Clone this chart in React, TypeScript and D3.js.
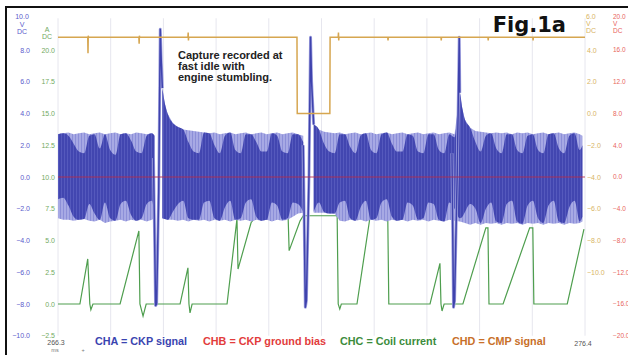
import React from "react";
import * as d3 from "d3";

// ---------- DATA ----------
// time axis (ms)
const timeStart = 266.3;
const timeEnd = 276.4;
const timeLabels = ["266.3", "276.4"];

// CHA (CKP signal) band: [t ms, envelopeHi V, envelopeLo V, denseHi V, denseLo V]
const ckpBandA: number[][] = [
  [266.3, 2.7, -2.6, 2.7, -1.4], [266.4, 2.75, -2.7, 2.75, -1.3], [266.5, 2.8, -2.7, 2.6, -1.8],
  [266.6, 2.7, -2.75, 2.1, -2.5], [266.7, 2.75, -2.7, 1.6, -2.7], [266.8, 2.8, -2.65, 1.5, -2.65],
  [266.9, 2.7, -2.75, 2.6, -1.7], [267.0, 2.75, -2.8, 2.7, -2.3], [267.1, 2.8, -2.7, 1.8, -2.7],
  [267.2, 2.7, -2.9, 2.7, -1.6], [267.3, 2.75, -2.8, 1.7, -2.6], [267.4, 2.8, -2.75, 1.4, -2.75],
  [267.5, 2.7, -2.7, 2.7, -1.7], [267.6, 2.75, -2.8, 2.75, -1.5], [267.7, 2.7, -2.7, 2.3, -2.4],
  [267.8, 2.8, -2.75, 1.6, -2.75], [267.9, 2.75, -2.7, 1.5, -2.6], [268.0, 2.7, -2.8, 2.6, -1.7],
  [268.1, 2.75, -2.7, 2.75, -1.5], [268.15, 2.6, -2.6, 2.6, -2.6],
];
const ckpBandB: number[][] = [
  [268.3, 5.6, -2.6, 5.6, -2.6], [268.35, 4.6, -2.65, 4.6, -2.65], [268.4, 4.0, -2.7, 4.0, -2.7],
  [268.5, 3.4, -2.7, 3.4, -2.2], [268.6, 3.15, -2.75, 3.15, -1.7], [268.7, 3.0, -2.7, 3.0, -1.5],
  [268.8, 2.95, -2.8, 2.2, -2.6], [268.9, 2.9, -2.7, 1.6, -2.7], [269.0, 2.85, -2.75, 1.5, -2.7],
  [269.1, 2.8, -2.7, 2.8, -1.6], [269.2, 2.75, -2.8, 2.75, -1.5], [269.3, 2.8, -2.7, 2.0, -2.6],
  [269.4, 2.7, -2.75, 1.5, -2.75], [269.5, 2.75, -2.7, 2.6, -1.9], [269.6, 2.8, -2.8, 2.8, -1.5],
  [269.7, 2.7, -2.7, 1.7, -2.7], [269.8, 2.75, -2.75, 1.5, -2.6], [269.9, 2.8, -2.7, 2.7, -1.6],
  [270.0, 2.7, -2.8, 2.7, -1.4], [270.1, 2.75, -2.7, 2.2, -2.5], [270.2, 2.8, -2.75, 1.6, -2.75],
  [270.3, 2.7, -2.7, 1.6, -2.7], [270.4, 2.75, -2.8, 2.75, -1.6], [270.5, 2.8, -2.7, 2.6, -1.8],
  [270.6, 2.7, -2.75, 1.6, -2.7], [270.7, 2.75, -2.7, 1.5, -2.6], [270.8, 2.8, -2.5, 2.7, -1.6],
  [270.9, 2.7, -2.3, 2.7, -1.7], [271.0, 2.6, -2.25, 2.2, -2.2],
];
const ckpBandC: number[][] = [
  [271.2, 3.3, -2.25, 3.3, -2.2], [271.3, 3.0, -2.25, 3.0, -1.6], [271.4, 2.85, -2.25, 2.1, -2.2],
  [271.5, 2.8, -2.3, 1.6, -2.3], [271.6, 2.75, -2.3, 1.5, -2.3], [271.7, 2.8, -2.75, 2.7, -1.6],
  [271.8, 2.7, -2.8, 2.7, -1.5], [271.9, 2.75, -2.7, 1.9, -2.6], [272.0, 2.8, -2.75, 1.5, -2.75],
  [272.1, 2.7, -2.7, 2.6, -1.9], [272.2, 2.75, -2.8, 2.75, -1.5], [272.3, 2.8, -2.7, 1.7, -2.7],
  [272.4, 2.7, -2.75, 1.5, -2.6], [272.5, 2.75, -2.7, 2.7, -1.6], [272.6, 2.8, -2.8, 2.8, -1.4],
  [272.7, 2.7, -2.7, 2.1, -2.5], [272.8, 2.75, -2.75, 1.6, -2.75], [272.9, 2.8, -2.7, 1.6, -2.7],
  [273.0, 2.7, -2.8, 2.7, -1.6], [273.1, 2.75, -2.7, 2.6, -1.8], [273.2, 2.8, -2.75, 1.6, -2.7],
  [273.3, 2.7, -2.7, 1.5, -2.6], [273.4, 2.75, -2.8, 2.7, -1.6], [273.5, 2.8, -2.7, 2.7, -1.7],
  [273.6, 2.7, -2.75, 1.7, -2.7], [273.7, 2.75, -2.8, 1.5, -2.8], [273.8, 2.8, -2.7, 2.7, -1.6],
  [273.9, 2.7, -2.75, 2.5, -2.0], [274.0, 5.3, -2.8, 5.3, -2.6], [274.05, 4.3, -2.85, 4.3, -2.5],
  [274.1, 3.6, -2.9, 3.6, -2.2], [274.2, 3.1, -3.0, 3.1, -1.7], [274.3, 2.9, -2.9, 2.2, -2.0],
  [274.4, 2.85, -3.0, 1.6, -2.9], [274.5, 2.8, -2.9, 2.6, -2.0], [274.6, 2.75, -2.95, 2.75, -1.6],
  [274.7, 2.8, -2.9, 1.8, -2.8], [274.8, 2.75, -3.0, 1.5, -2.9], [274.9, 2.8, -2.9, 2.7, -1.7],
  [275.0, 2.7, -2.95, 2.7, -1.5], [275.1, 2.8, -2.9, 1.7, -2.8], [275.2, 2.75, -3.0, 1.5, -2.95],
  [275.3, 2.8, -2.9, 2.6, -1.8], [275.4, 2.7, -2.95, 2.7, -1.5], [275.5, 2.75, -2.9, 1.7, -2.6],
  [275.6, 2.8, -3.0, 1.5, -2.9], [275.7, 2.7, -2.9, 2.7, -1.8], [275.8, 2.75, -2.95, 2.75, -1.5],
  [275.9, 2.8, -2.9, 1.8, -2.8], [276.0, 2.7, -3.0, 1.5, -2.9], [276.1, 2.75, -2.9, 2.6, -1.9],
  [276.2, 2.8, -2.95, 2.75, -1.5], [276.3, 2.7, -2.9, 1.7, -2.8], [276.35, 2.6, -2.8, 2.0, -2.5],
];
// CHA spikes: [t ms, V]
const ckpSpike1: number[][] = [[268.13, 1.2], [268.17, -8.1], [268.19, -8.0], [268.23, -1.0], [268.26, 9.3], [268.28, 7.2], [268.3, 5.6]];
const ckpSpike2: number[][] = [[271.0, 2.0], [271.04, -8.2], [271.06, -7.8], [271.11, 0], [271.14, 8.8], [271.16, 6.0], [271.2, 3.3]];
const ckpSpike3: number[][] = [[273.85, 1.5], [273.88, -8.2], [273.9, -7.8], [273.95, 0], [273.99, 8.8], [274.0, 5.3]];

// CHB (CKP ground bias): [t ms, V]
const groundBias: number[][] = [[266.3, 0], [276.4, 0]];

// CHC (coil current): [t ms, A]
const coilCurrent: number[][] = [
  [266.3, 0], [266.72, 0], [266.87, 3.55], [266.91, 0], [266.93, -0.45], [266.97, 0],
  [267.49, 0], [267.85, 5.75], [267.87, 0], [267.93, -0.95], [267.99, 0],
  [268.64, 0], [268.79, 2.85], [268.81, 0], [268.83, -0.7], [268.87, 0],
  [269.54, 0], [269.73, 6.7], [269.75, 2.75], [270.0, 6.4], [270.09, 6.9], [270.71, 6.9],
  [270.73, 4.2], [270.94, 6.55], [271.0, 6.95], [271.65, 6.95], [271.67, 0], [271.7, -0.4], [271.73, 0],
  [272.03, 0], [272.28, 6.85], [272.62, 6.85], [272.64, 0],
  [273.43, 0], [273.62, 3.2], [273.64, 0], [273.66, -0.55], [273.7, 0],
  [274.06, 0], [274.5, 6.0], [274.54, 6.0], [274.56, 0],
  [274.83, 0], [275.34, 6.0], [275.4, 6.0], [275.42, 0],
  [276.06, 0], [276.38, 5.9],
];

// CHD (CMP signal): [t ms, V]
const cmpSignal: number[][] = [
  [266.3, 4.8], [266.87, 4.8], [266.875, 3.8], [266.88, 4.9], [266.885, 4.8],
  [267.85, 4.8], [267.855, 4.4], [267.86, 4.9], [267.865, 4.8],
  [268.79, 4.8], [268.795, 5.1], [268.8, 4.6], [268.805, 4.8],
  [270.88, 4.8], [270.885, 0.0], [271.51, 0.0], [271.515, 4.8],
  [271.67, 4.8], [271.675, 5.1], [271.68, 4.6], [271.685, 4.8],
  [272.62, 4.8], [272.625, 4.6], [272.63, 4.8],
  [273.64, 4.8], [273.645, 4.6], [273.65, 4.8],
  [274.54, 4.8], [274.545, 4.6], [274.55, 4.8],
  [275.4, 4.8], [275.405, 4.6], [275.41, 4.8],
  [276.4, 4.8],
];

// axis tick labels
const chaTicks = [8, 6, 4, 2, 0, -2, -4, -6, -8, -10];
const chcTicks = [20, 17.5, 15, 12.5, 10, 7.5, 5, 2.5, 0, -2.5];
const chdTicks = [4, 2, 0, -2, -4, -6, -8, -10];
const chbTicks = [16, 12, 8, 4, 0, -4, -8, -12, -16, -20];
const chaHeader = ["10.0", "V", "DC"];
const chcHeader = ["A", "DC"];
const chdHeader = ["6.0", "V", "DC"];
const chbHeader = ["20.0", "V", "DC"];
const gridDivisions = [0, 1, 2, 3, 4, 5, 6, 7, 8, 9, 10];

const legendItems = [
  { text: "CHA = CKP signal", color: "#3a44b0" },
  { text: "CHB = CKP ground bias", color: "#e23c3c" },
  { text: "CHC = Coil current", color: "#3c8c3c" },
  { text: "CHD = CMP signal", color: "#c8702a" },
];
const noteLines = ["Capture recorded at", "fast idle with", "engine stumbling."];
const figTitle = "Fig.1a";

// ---------- CHART ----------
const W = 628, H = 355;
const L = 58, R = 585, T = 18.25, B = 335.75;

export default function App() {
  const x = d3.scaleLinear().domain([timeStart, timeEnd]).range([L, R]);
  const yA = d3.scaleLinear().domain([-10, 10]).range([B, T]);
  const yB = d3.scaleLinear().domain([-20, 20]).range([B, T]);
  const yC = d3.scaleLinear().domain([-2.5, 22.5]).range([B, T]);
  const yD = d3.scaleLinear().domain([-14, 6]).range([B, T]);

  const envArea = d3.area<number[]>().x(d => x(d[0])).y0(d => yA(d[2])).y1(d => yA(d[1]));
  const denseArea = d3.area<number[]>().curve(d3.curveMonotoneX).x(d => x(d[0])).y0(d => yA(d[4])).y1(d => yA(d[3]));
  const lineA = d3.line<number[]>().x(d => x(d[0])).y(d => yA(d[1]));
  const lineB = d3.line<number[]>().x(d => x(d[0])).y(d => yB(d[1]));
  const lineC = d3.line<number[]>().x(d => x(d[0])).y(d => yC(d[1]));
  const lineD = d3.line<number[]>().x(d => x(d[0])).y(d => yD(d[1]));
  const fmt = d3.format(".1f");
  const bands = [ckpBandA, ckpBandB, ckpBandC];
  const spikes = [ckpSpike1, ckpSpike2, ckpSpike3];
  const gx = d3.scaleLinear().domain([0, 10]).range([L, R]);
  const lblFont = "'Liberation Sans', Arial, sans-serif";
  const legendX = [95, 203, 340, 452];

  return (
    <svg width={W} height={H} style={{ position: "absolute", left: 0, top: 0, background: "#fff" }}>
      <defs>
        <pattern id="lightTex" width={3} height={6} patternUnits="userSpaceOnUse">
          <rect width={3} height={6} fill="#a7a9e4" />
          <rect width={1} height={6} fill="#8c8fd8" />
        </pattern>
        <pattern id="darkTex" width={3} height={6} patternUnits="userSpaceOnUse">
          <rect width={3} height={6} fill="#4246b0" />
          <rect x={1} width={0.8} height={6} fill="#5a5ec0" />
        </pattern>
      </defs>
      <rect x={0} y={0} width={W} height={H} fill="#fff" />
      {gridDivisions.map(g => (
        <line key={g} x1={gx(g)} x2={gx(g)} y1={T} y2={B} stroke="#e6e6ee" strokeWidth={1} />
      ))}
      {/* coil current (drawn beneath CHA) */}
      <path d={lineC(coilCurrent) || ""} fill="none" stroke="#4e9e4e" strokeWidth={1.2} />
      {/* CKP band */}
      {bands.map((b, i) => (
        <g key={i}>
          <path d={envArea(b) || ""} fill="url(#lightTex)" />
          <path d={denseArea(b) || ""} fill="url(#darkTex)" />
        </g>
      ))}
      {spikes.map((s, i) => (
        <g key={i}>
          <path d={lineA(s) || ""} fill="none" stroke="#a2a4e0" strokeWidth={3} strokeLinejoin="round" />
          <path d={lineA(s) || ""} fill="none" stroke="#3f43ad" strokeWidth={1.5} strokeLinejoin="round" />
        </g>
      ))}
      {/* ground bias */}
      <path d={lineB(groundBias) || ""} fill="none" stroke="#b82a48" strokeWidth={1} opacity={0.85} />
      {/* CMP */}
      <path d={lineD(cmpSignal) || ""} fill="none" stroke="#d6a650" strokeWidth={1.5} />

      {/* axis labels */}
      <g fontFamily={lblFont} fontSize={7}>
        {chaHeader.map((t, i) => (
          <text key={"ah" + i} x={22} y={19 + i * 7.5} fill="#5a5ccc" textAnchor="middle">{t}</text>
        ))}
        {chaTicks.map(v => (
          <text key={"a" + v} x={30} y={yA(v) + 2.5} fill="#5a5ccc" textAnchor="end">{fmt(v)}</text>
        ))}
        {chcHeader.map((t, i) => (
          <text key={"ch" + i} x={47} y={32 + i * 7} fill="#72aa62" textAnchor="middle">{t}</text>
        ))}
        {chcTicks.map(v => (
          <text key={"c" + v} x={55} y={yC(v) + 2.5} fill="#72aa62" textAnchor="end">{fmt(v)}</text>
        ))}
        {chdHeader.map((t, i) => (
          <text key={"dh" + i} x={586} y={19 + i * 7} fill="#d8b464" textAnchor="start">{t}</text>
        ))}
        {chdTicks.map(v => (
          <text key={"d" + v} x={587} y={yD(v) + 2.5} fill="#d8b464" textAnchor="start">{fmt(v)}</text>
        ))}
      </g>
      <g fontFamily={lblFont} fontSize={6.5}>
        {chbHeader.map((t, i) => (
          <text key={"bh" + i} x={613} y={19 + i * 7} fill="#e8645c" textAnchor="start">{t}</text>
        ))}
        {chbTicks.map(v => (
          <text key={"b" + v} x={613} y={yB(v) + 2.3} fill="#e8645c" textAnchor="start">{fmt(v)}</text>
        ))}
      </g>
      <g fontFamily={lblFont} fontSize={7}>
        <text x={x(timeStart) - 2} y={345} fill="#555" textAnchor="middle">{timeLabels[0]}</text>
        <text x={x(timeStart) - 3} y={352} fill="#777" textAnchor="middle" fontSize={5.5}>ms</text>
        <text x={83} y={352} fill="#777" textAnchor="middle" fontSize={5.5}>+</text>
        <text x={x(timeEnd) - 2} y={346} fill="#555" textAnchor="middle">{timeLabels[1]}</text>
      </g>

      {/* legend */}
      <g fontFamily={lblFont} fontSize={10.8} fontWeight="bold">
        {legendItems.map((it, i) => (
          <text key={i} x={legendX[i]} y={345} fill={it.color}>{it.text}</text>
        ))}
      </g>

      {/* note */}
      <g fontFamily={lblFont} fontSize={11} fontWeight="bold" fill="#222">
        {noteLines.map((t, i) => (
          <text key={i} x={178} y={59 + i * 11}>{t}</text>
        ))}
      </g>

      {/* title */}
      <text x={566} y={32} textAnchor="end" fontFamily="'DejaVu Sans', Verdana, sans-serif" fontWeight="bold" fontSize={21} fill="#111">{figTitle}</text>

      {/* frame */}
      <line x1={5} x2={W} y1={7} y2={7} stroke="#111" strokeWidth={2} />
      <line x1={6} x2={6} y1={6} y2={H} stroke="#111" strokeWidth={2} />
    </svg>
  );
}
